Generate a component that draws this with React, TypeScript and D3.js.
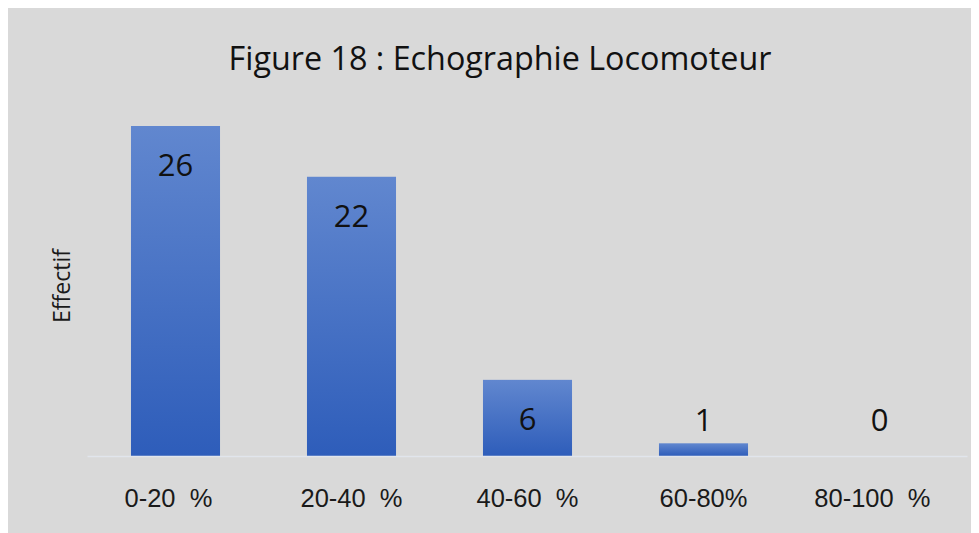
import React from "react";
import * as d3 from "d3";

const categories = ["0-20  %  ", "20-40  %", "40-60  %", "60-80%", "80-100  %  "];
const values = [26, 22, 6, 1, 0];
const title = "Figure 18 : Echographie Locomoteur";
const yTitle = "Effectif";

const W = 971;
const H = 525;
const plotLeft = 79.5;
const plotRight = 959.5;
const baseY = 448;
const topY = 118;

export default function App() {
  const x = d3.scaleBand<string>().domain(categories).range([plotLeft, plotRight]).paddingInner(0.494).paddingOuter(0.247);
  const y = d3.scaleLinear().domain([0, 26]).range([baseY, topY]);
  return (
    <svg width={W} height={H} style={{ display: "block" }}>
      <defs>
        <linearGradient id="barGrad" x1="0" y1="0" x2="0" y2="1">
          <stop offset="0%" stopColor="#6187cf" />
          <stop offset="100%" stopColor="#2e5dba" />
        </linearGradient>
      </defs>
      <rect x={0} y={0} width={W} height={H} fill="#d9d9d9" />
      <text x={492} y={62} textAnchor="middle" fontFamily="'Open Sans'" fontSize={32.3} fill="#111">
        {title}
      </text>
      <text
        transform={`translate(53,278) rotate(-90)`}
        textAnchor="middle"
        dominantBaseline="central"
        fontFamily="'Open Sans'"
        fontSize={23}
        fill="#1a1a1a"
      >
        {yTitle}
      </text>
      {values.map((v, i) => {
        const c = categories[i];
        const bx = x(c)!;
        const top = y(v);
        return v > 0 ? (
          <rect key={"b" + i} x={bx} y={top} width={x.bandwidth()} height={baseY - top} fill="url(#barGrad)" />
        ) : null;
      })}
      <line x1={plotLeft} x2={plotRight} y1={baseY + 0.5} y2={baseY + 0.5} stroke="#e1e5ec" strokeWidth={1.5} />
      {values.map((v, i) => {
        const c = categories[i];
        const cx = x(c)! + x.bandwidth() / 2;
        const top = y(v);
        const inside = baseY - top > 50;
        const ty = inside ? top + 50 : Math.min(top, y(1)) - 12;
        return (
          <text key={"l" + i} x={cx} y={ty} textAnchor="middle" fontFamily="'Open Sans'" fontSize={31} fill="#111">
            {v}
          </text>
        );
      })}
      {categories.map((c, i) => (
        <text
          key={"t" + i}
          x={x(c)! + x.bandwidth() / 2}
          y={499}
          textAnchor="middle"
          fontFamily="'Liberation Sans', Arial, sans-serif"
          fontSize={25.5}
          fill="#1a1a1a"
          style={{ whiteSpace: "pre" }}
        >
          {c}
        </text>
      ))}
    </svg>
  );
}
